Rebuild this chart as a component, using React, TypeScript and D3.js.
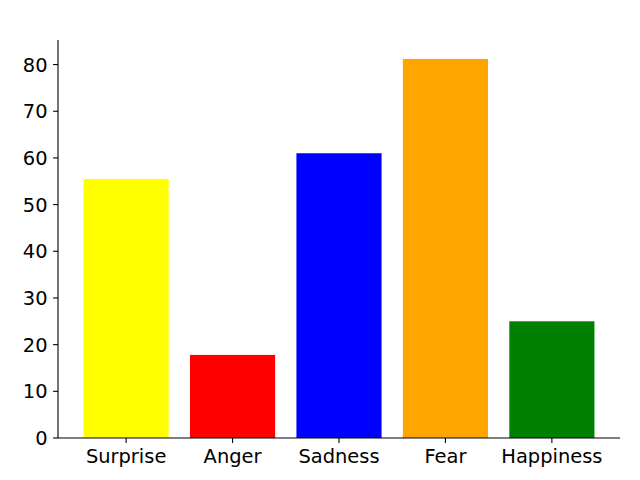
import React from "react";
import * as d3 from "d3";

// values
const emotions = ["Surprise", "Anger", "Sadness", "Fear", "Happiness"];
const counts = [55.5, 17.8, 61.0, 81.2, 25.0];
const barColors = ["yellow", "red", "blue", "orange", "green"];
const yTicks = [0, 10, 20, 30, 40, 50, 60, 70, 80];

const width = 640;
const height = 480;
const margin = { top: 40, right: 20, bottom: 42, left: 58 };
const font = "DejaVu Sans, sans-serif";
const fontSize = 19.44;

const App = () => {
  const barWidth = 0.8;
  const lo = -barWidth / 2;
  const hi = emotions.length - 1 + barWidth / 2;
  const pad = (hi - lo) * 0.05;

  // x: linear over bar index, like matplotlib's categorical axis
  const x = d3
    .scaleLinear()
    .domain([lo - pad, hi + pad])
    .range([margin.left, width - margin.right]);

  const yMax = d3.max(counts)! * 1.05;
  const y = d3
    .scaleLinear()
    .domain([0, yMax])
    .range([height - margin.bottom, margin.top]);

  const x0 = margin.left;
  const y0 = height - margin.bottom;

  return (
    <svg
      width={width}
      height={height}
      style={{ position: "absolute", left: 0, top: 0, background: "#fff" }}
    >
      {/* bars */}
      {counts.map((c, i) => (
        <rect
          key={emotions[i]}
          x={x(i - barWidth / 2)}
          y={y(c)}
          width={x(barWidth) - x(0)}
          height={y(0) - y(c)}
          fill={barColors[i]}
        />
      ))}

      {/* y axis */}
      <line x1={x0} x2={x0} y1={margin.top} y2={y0} stroke="#000" strokeWidth={1.1} />
      {yTicks.map((t) => (
        <g key={t} transform={`translate(0, ${y(t)})`}>
          <line x1={x0 - 4.9} x2={x0} stroke="#000" strokeWidth={1.1} />
          <text
            x={x0 - 10.5}
            dy="0.36em"
            textAnchor="end"
            fontFamily={font}
            fontSize={fontSize}
            fill="#000"
          >
            {t}
          </text>
        </g>
      ))}

      {/* x axis */}
      <line x1={x0} x2={width - margin.right} y1={y0} y2={y0} stroke="#000" strokeWidth={1.1} />
      {emotions.map((e, i) => (
        <g key={e} transform={`translate(${x(i)}, ${y0})`}>
          <line y1={0} y2={4.9} stroke="#000" strokeWidth={1.1} />
          <text
            y={24.5}
            textAnchor="middle"
            fontFamily={font}
            fontSize={fontSize}
            fill="#000"
          >
            {e}
          </text>
        </g>
      ))}
    </svg>
  );
};

export default App;
